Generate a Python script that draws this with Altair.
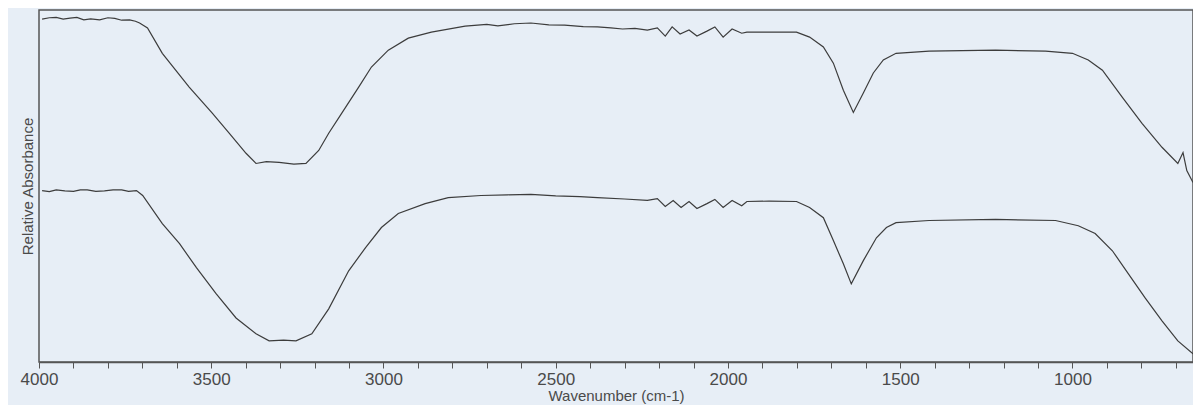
import altair as alt
import pandas as pd

# Upper spectrum (wavenumber cm-1, relative absorbance in arbitrary units)
upper_wn = [3991, 3970, 3950, 3930, 3910, 3890, 3870, 3850, 3824, 3800, 3780, 3760, 3737, 3720,
            3708, 3685, 3642, 3564, 3497, 3448, 3399,
            3370, 3340, 3303, 3260, 3225, 3188, 3159, 3121, 3072, 3035, 2986, 2928, 2861, 2763,
            2700, 2668, 2620, 2572, 2520, 2474, 2420, 2379, 2340, 2306, 2270, 2234, 2205, 2182,
            2162, 2139, 2113, 2090, 2061, 2038,
            2014, 1988, 1960, 1945, 1887, 1801, 1763, 1723, 1694, 1665, 1636, 1607, 1578, 1549,
            1512, 1416, 1223, 1078, 1000, 954, 913, 855, 798, 740, 694, 679, 668, 650]
upper_val = [97.4, 97.8, 97.9, 97.4, 97.7, 97.9, 97.2, 97.5, 97.2, 97.8, 97.6, 97.1, 97.2, 96.8,
             96.3, 94.9, 87.7, 78.1, 70.7, 65.0, 59.3,
             56.4, 56.9, 56.7, 56.2, 56.4, 60.1, 65.0, 70.7, 78.1, 83.8, 88.6, 92.0, 93.7, 95.4,
             95.9, 95.5, 96.1, 96.3, 95.8, 95.7, 95.3, 95.2, 94.9, 94.6, 94.8, 94.3, 94.9, 92.6,
             95.2, 93.2, 94.3, 92.6, 94.0, 95.2,
             92.3, 94.6, 93.4, 93.7, 93.7, 93.7, 92.3, 89.5, 84.9, 77.2, 70.9, 76.4, 82.1, 85.8,
             87.7, 88.3, 88.6, 88.3, 87.7, 85.8, 82.9, 75.2, 67.8, 61.0, 56.4, 59.5, 54.4, 51.0]

# Lower spectrum
lower_wn = [3991, 3970, 3950, 3925, 3900, 3880, 3860, 3835, 3810, 3785, 3760, 3740, 3717, 3699,
            3642, 3592, 3543, 3486, 3428, 3370,
            3332, 3290, 3254, 3208, 3159, 3101, 3052, 3006, 2957, 2879, 2812, 2717, 2640, 2572,
            2500, 2430, 2379, 2300,
            2234, 2205, 2182, 2159, 2136, 2113, 2090, 2061, 2038, 2014, 1988, 1960, 1945, 1880,
            1801, 1763, 1723, 1694, 1665, 1642, 1607, 1569, 1540, 1512, 1416, 1223, 1049, 983, 934,
            884, 838, 789, 740, 694, 650]
lower_val = [48.7, 48.4, 48.9, 48.6, 48.5, 48.9, 48.9, 48.5, 48.6, 48.9, 48.9, 48.5, 48.7, 47.3,
             39.3, 33.6, 26.8, 19.4, 12.5, 8.0,
             6.0, 6.2, 6.0, 8.0, 15.1, 25.9, 32.5, 38.2, 42.2, 45.0, 46.7, 47.3, 47.5, 47.6,
             47.2, 47.0, 46.7, 46.3,
             45.9, 46.4, 44.2, 45.9, 43.9, 45.6, 43.6, 45.0, 46.2, 43.9, 45.9, 44.4, 45.6, 45.7,
             45.6, 43.9, 41.0, 34.5, 27.9, 22.2, 28.8, 35.3, 38.2, 39.6, 40.2, 40.5, 40.2, 38.7, 36.5,
             31.6, 25.1, 18.2, 11.7, 6.0, 2.3]

x_ticks = list(range(700, 4001, 100))

df = pd.concat([
    pd.DataFrame({"wn": upper_wn, "val": upper_val, "series": "upper"}),
    pd.DataFrame({"wn": lower_wn, "val": lower_val, "series": "lower"}),
])

line_color = "#3c3c3c"
text_color = "#4a4a4a"
bg = "#e7eef6"

chart = alt.Chart(df).mark_line(strokeWidth=1.2, color=line_color).encode(
    x=alt.X("wn:Q",
            scale=alt.Scale(domain=[650, 4000], reverse=True, nice=False, zero=False),
            axis=alt.Axis(values=x_ticks,
                          labelExpr="datum.value % 500 == 0 ? datum.value : ''",
                          title="Wavenumber (cm-1)", grid=False,
                          tickSize=6, tickColor="#555", domainColor="#555", domainWidth=1.5,
                          labelFont="Liberation Sans", labelFontSize=17, labelColor=text_color,
                          labelPadding=3, labelFlush=False,
                          titleFont="Liberation Sans", titleFontSize=15, titleFontWeight="normal",
                          titleColor=text_color, titlePadding=1)),
    y=alt.Y("val:Q",
            scale=alt.Scale(domain=[0, 100], nice=False, zero=False),
            axis=alt.Axis(title="Relative Absorbance", labels=False, ticks=False, grid=False,
                          domain=False,
                          titleFont="Liberation Sans", titleFontSize=15, titleFontWeight="normal",
                          titleColor=text_color, titlePadding=4)),
    detail="series:N",
).properties(
    width=1154,
    height=352,
    autosize=alt.AutoSizeParams(type="none"),
    padding={"left": 31, "top": 2, "right": 0, "bottom": 43},
    background=bg,
).configure_view(
    stroke="#555", strokeWidth=1.5, fill=bg
)

chart.save("out.html", embed_options={"renderer": "svg", "actions": False})
